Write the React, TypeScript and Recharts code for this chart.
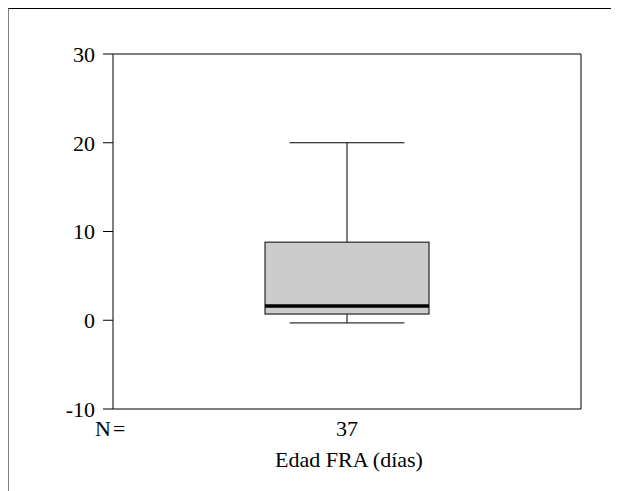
import { ComposedChart, Bar, XAxis, YAxis, ReferenceLine } from 'recharts';

const groups = ['37'];
const q1 = [0.7];
const median = [1.6];
const q3 = [8.8];
const whiskerLow = [-0.3];
const whiskerHigh = [20];
const yTicks = [-10, 0, 10, 20, 30];

const data = groups.map((n, i) => ({
  n,
  box: [q1[i], q3[i]],
  q1: q1[i],
  median: median[i],
  q3: q3[i],
  min: whiskerLow[i],
  max: whiskerHigh[i],
}));

const FONT = '"Liberation Serif", "Times New Roman", serif';
const FS = 22;

// the frame runs past the window edge like the original export, so no scrollbars
if (typeof document !== 'undefined') {
  document.documentElement.style.overflow = 'hidden';
  document.body.style.overflow = 'hidden';
}

function BoxShape(props: any) {
  const { x, y, width, height, payload } = props;
  const top = Math.min(y, y + height);
  const h = Math.abs(height);
  const ppu = h / (payload.q3 - payload.q1);
  const medY = top + (payload.q3 - payload.median) * ppu;
  const maxY = top - (payload.max - payload.q3) * ppu;
  const minY = top + h + (payload.q1 - payload.min) * ppu;
  const cx = x + width / 2;
  const cap = width * 0.35;
  return (
    <g>
      <line x1={cx} x2={cx} y1={maxY} y2={top} stroke="#000" />
      <line x1={cx - cap} x2={cx + cap} y1={maxY} y2={maxY} stroke="#000" />
      <line x1={cx} x2={cx} y1={top + h} y2={minY} stroke="#000" />
      <line x1={cx - cap} x2={cx + cap} y1={minY} y2={minY} stroke="#000" />
      <rect x={x} y={top} width={width} height={h} fill="#cccccc" stroke="#000" />
      <line x1={x} x2={x + width} y1={medY} y2={medY} stroke="#000" strokeWidth={3.5} />
    </g>
  );
}

function NTick(props: any) {
  const { x, y, payload } = props;
  return (
    <g>
      <text x={x - 252} y={y} dy="0.71em" textAnchor="start" fontFamily={FONT} fontSize={FS} letterSpacing={2} fill="#000">
        N=
      </text>
      <text x={x} y={y} dy="0.71em" textAnchor="middle" fontFamily={FONT} fontSize={FS} fill="#000">
        {payload.value}
      </text>
    </g>
  );
}

export default function App() {
  return (
    <div
      style={{
        position: 'relative',
        width: 610,
        height: 482,
        borderTop: '1px solid #000',
        borderLeft: '1px solid #808080',
        background: '#fff',
      }}
    >
      <ComposedChart width={610} height={482} data={data} margin={{ top: 45, right: 0, bottom: 0, left: 0 }}>
        <XAxis
          dataKey="n"
          height={82}
          tickLine={false}
          tickSize={0}
          tickMargin={11}
          axisLine={{ stroke: '#000' }}
          tick={<NTick />}
          label={{
            content: ({ viewBox }: any) => (
              <text
                x={viewBox.x + viewBox.width / 2 + 2}
                y={viewBox.y + 58}
                textAnchor="middle"
                fontFamily={FONT}
                fontSize={FS}
                fill="#000"
              >
                Edad FRA (días)
              </text>
            ),
          }}
        />
        <YAxis
          width={104}
          domain={[-10, 30]}
          ticks={yTicks}
          type="number"
          allowDataOverflow
          tickSize={10}
          tickMargin={8}
          axisLine={{ stroke: '#000' }}
          tickLine={{ stroke: '#000' }}
          tick={{ fontFamily: FONT, fontSize: FS, fill: '#000' }}
        />
        <YAxis
          yAxisId="r"
          orientation="right"
          width={38}
          domain={[-10, 30]}
          tick={false}
          tickLine={false}
          axisLine={{ stroke: '#000' }}
        />
        <ReferenceLine y={30} stroke="#000" />
        <Bar dataKey="box" barSize={164} shape={<BoxShape />} isAnimationActive={false} />
      </ComposedChart>
    </div>
  );
}
